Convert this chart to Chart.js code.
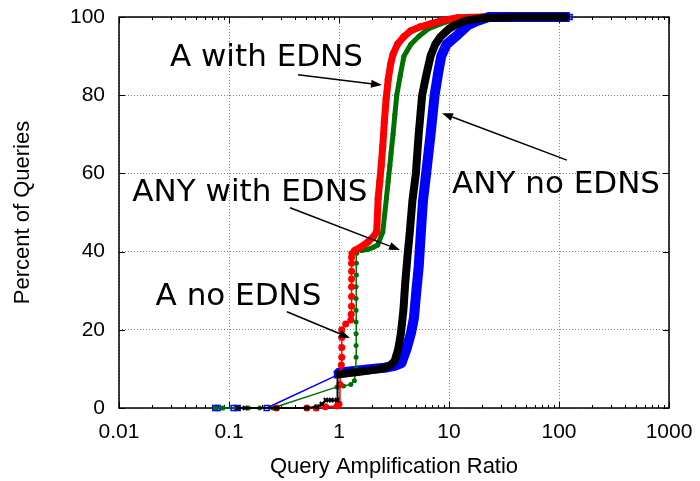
<!DOCTYPE html>
<html>
<head>
<meta charset="utf-8">
<script src="https://cdn.jsdelivr.net/npm/chart.js@4.4.1/dist/chart.umd.min.js"></script>
<style>
  html, body { margin: 0; padding: 0; background: #fff; }
</style>
</head>
<body>
<canvas id="ampChart" width="700" height="481"></canvas>
<script>
// Grafico CDF de amplificacion
var xTicks = [0.01, 0.1, 1, 10, 100, 1000];
var xTickLabels = ['0.01', '0.1', '1', '10', '100', '1000'];
var yTicks = [0, 20, 40, 60, 80, 100];

// A with EDNS (rojo)
var redX = [0.27, 0.51, 0.62, 0.75, 0.96, 1.0, 1.02, 1.04, 1.05, 1.06, 1.06, 1.06, 1.06, 1.15, 1.28, 1.29, 1.3, 1.3, 1.3, 1.3, 1.3, 1.3, 1.3, 1.31, 1.39, 1.55, 1.84, 2.04, 2.2, 2.27, 2.35, 2.42, 2.5, 2.58, 2.68, 2.8, 2.95, 3.1, 3.4, 3.9, 4.5, 5.5, 6.9, 9, 12, 20];
var redY = [0, 0, 0, 0.3, 0.5, 1, 6, 9, 11, 13, 15.5, 18, 20, 21.5, 22.5, 24, 26, 28.5, 31, 33, 35, 37, 38.5, 39.5, 40.3, 41, 42.5, 43.7, 45, 53.7, 58, 62, 67, 73, 79, 84, 88, 90.5, 93, 95, 96.5, 97.5, 98.3, 99.2, 99.8, 100];

// A no EDNS (verde)
var greenX = [0.075, 0.088, 0.15, 0.19, 0.25, 0.96, 1.1, 1.28, 1.38, 1.42, 1.43, 1.43, 1.43, 1.43, 1.43, 1.43, 1.43, 1.44, 1.44, 1.45, 1.6, 1.84, 2.05, 2.25, 2.5, 2.7, 2.8, 2.9, 2.97, 3.1, 3.22, 3.35, 3.6, 3.9, 4.5, 5.3, 6.5, 8.5, 11, 15];
var greenY = [0, 0, 0, 0, 0, 5.4, 5.6, 6, 7, 10, 13, 16, 19, 22, 25, 28, 31, 34, 37, 39.6, 40.3, 40.6, 41.1, 41.7, 45, 53.7, 58, 62, 65, 70, 75, 80, 85, 90, 93, 95, 97, 98.3, 99.3, 100];

// ANY with EDNS (negro)
var blackX = [0.12, 0.14, 0.27, 0.51, 0.63, 0.7, 0.76, 0.85, 0.96, 0.97, 1.0, 1.3, 1.8, 2.4, 2.9, 3.2, 3.45, 3.65, 3.85, 4.0, 4.2, 4.4, 4.65, 5.0, 5.3, 5.7, 6.2, 6.8, 7.5, 8.4, 10, 11.5, 14, 20, 40, 80, 120];
var blackY = [0, 0, 0, 0, 0.3, 1, 2, 2, 2, 8.4, 8.6, 9, 9.5, 10, 10.8, 12, 15, 19, 25, 32, 39, 45, 53, 60, 70, 80, 85, 90, 93, 95, 97, 98, 99, 99.7, 100, 100, 100];

// ANY no EDNS (azul)
var blueX = [0.075, 0.079, 0.11, 0.12, 0.22, 0.96, 1.0, 1.5, 2.0, 2.6, 3.2, 3.7, 4.1, 4.5, 4.8, 5.05, 5.3, 5.55, 5.8, 6.2, 6.8, 7.4, 8.0, 8.5, 9.5, 11.5, 15, 18, 23, 40, 80, 125];
var blueY = [0, 0, 0, 0, 0, 8.4, 9, 9.6, 10, 10.3, 10.8, 11.5, 15, 19, 23, 30, 36, 45, 53, 60, 70, 80, 86, 90, 93, 95, 98, 99, 100, 100, 100, 100];

// etiquetas y flechas (en coordenadas de datos)
var labelText = ['A with EDNS', 'ANY with EDNS', 'A no EDNS', 'ANY no EDNS'];
var labelX = [0.219, 0.155, 0.122, 94];
var labelY = [87.5, 52.9, 26.3, 55.0];
var arrowFromX = [0.424, 0.359, 0.336, 118];
var arrowFromY = [85.2, 51.2, 24.6, 63.4];
var arrowToX = [2.46, 3.59, 1.26, 8.63];
var arrowToY = [82.6, 40.4, 17.9, 75.4];

function toPoints(xs, ys) {
    return xs.map(function (x, i) { return { x: x, y: ys[i] }; });
}

var framePlugin = {
    id: 'frame',
    beforeDatasetsDraw: function (chart) {
        var ctx = chart.ctx, a = chart.chartArea;
        var xs = chart.scales.x, ys = chart.scales.y;
        ctx.save();
        ctx.strokeStyle = '#000';
        ctx.lineWidth = 1;
        ctx.beginPath();
        // marcas menores en x
        for (var d = 0; d < xTicks.length - 1; d++) {
            for (var m = 2; m < 10; m++) {
                var px = Math.round(xs.getPixelForValue(xTicks[d] * m)) + 0.5;
                ctx.moveTo(px, a.bottom); ctx.lineTo(px, a.bottom - 3);
                ctx.moveTo(px, a.top); ctx.lineTo(px, a.top + 3);
            }
        }
        xTicks.forEach(function (v) {
            var px = Math.round(xs.getPixelForValue(v)) + 0.5;
            ctx.moveTo(px, a.bottom); ctx.lineTo(px, a.bottom - 6);
            ctx.moveTo(px, a.top); ctx.lineTo(px, a.top + 6);
        });
        yTicks.forEach(function (v) {
            var py = Math.round(ys.getPixelForValue(v)) + 0.5;
            ctx.moveTo(a.left, py); ctx.lineTo(a.left + 6, py);
            ctx.moveTo(a.right, py); ctx.lineTo(a.right - 6, py);
        });
        ctx.stroke();
        ctx.lineWidth = 1.5;
        ctx.strokeRect(a.left, a.top, a.right - a.left, a.bottom - a.top);
        ctx.restore();
    },
    afterDatasetsDraw: function (chart) {
        var ctx = chart.ctx;
        var xs = chart.scales.x, ys = chart.scales.y;
        ctx.save();
        ctx.fillStyle = '#000';
        ctx.strokeStyle = '#000';
        ctx.font = '31px "DejaVu Sans"';
        ctx.textAlign = 'center';
        ctx.textBaseline = 'alphabetic';
        labelText.forEach(function (t, i) {
            ctx.fillText(t, xs.getPixelForValue(labelX[i]), ys.getPixelForValue(labelY[i]));
        });
        ctx.lineWidth = 1.5;
        labelText.forEach(function (t, i) {
            var x0 = xs.getPixelForValue(arrowFromX[i]), y0 = ys.getPixelForValue(arrowFromY[i]);
            var x1 = xs.getPixelForValue(arrowToX[i]), y1 = ys.getPixelForValue(arrowToY[i]);
            var ang = Math.atan2(y1 - y0, x1 - x0);
            var hl = 11, hw = 4;
            var bx = x1 - hl * Math.cos(ang), by = y1 - hl * Math.sin(ang);
            ctx.beginPath();
            ctx.moveTo(x0, y0); ctx.lineTo(bx, by);
            ctx.stroke();
            ctx.beginPath();
            ctx.moveTo(x1, y1);
            ctx.lineTo(bx + hw * Math.sin(ang), by - hw * Math.cos(ang));
            ctx.lineTo(bx - hw * Math.sin(ang), by + hw * Math.cos(ang));
            ctx.closePath();
            ctx.fill();
        });
        ctx.restore();
    }
};

Chart.defaults.font.family = '"Liberation Sans", Arial, sans-serif';
Chart.defaults.color = '#000';

var ctx = document.getElementById('ampChart').getContext('2d');

var myChart = new Chart(ctx, {
    type: 'scatter',
    data: {
        datasets: [{
            label: 'ANY with EDNS',
            data: toPoints(blackX, blackY),
            showLine: true,
            borderColor: '#000000',
            backgroundColor: '#000000',
            pointStyle: 'crossRot',
            pointRadius: 3,
            pointBorderWidth: 2,
            borderJoinStyle: 'round',
            borderCapStyle: 'butt',
            segment: {
                borderWidth: function (c) { return c.p0.parsed.y >= 8 ? 8 : 2; }
            },
            clip: false,
            order: 0
        }, {
            label: 'A with EDNS',
            data: toPoints(redX, redY),
            showLine: true,
            borderColor: '#ff0000',
            backgroundColor: '#ff0000',
            pointStyle: 'circle',
            pointRadius: 3.5,
            pointBorderWidth: 0,
            borderJoinStyle: 'round',
            borderCapStyle: 'round',
            segment: {
                borderWidth: function (c) { return c.p0.parsed.y >= 40 ? 7 : 1.5; }
            },
            clip: false,
            order: 1
        }, {
            label: 'A no EDNS',
            data: toPoints(greenX, greenY),
            showLine: true,
            borderColor: '#007000',
            backgroundColor: '#007000',
            pointStyle: 'circle',
            pointRadius: 2.5,
            pointBorderWidth: 0,
            borderJoinStyle: 'round',
            borderCapStyle: 'round',
            segment: {
                borderWidth: function (c) { return c.p0.parsed.y >= 40 ? 5 : 1.5; }
            },
            clip: false,
            order: 2
        }, {
            label: 'ANY no EDNS',
            data: toPoints(blueX, blueY),
            showLine: true,
            borderColor: '#0000ff',
            backgroundColor: 'rgba(0,0,0,0)',
            pointStyle: 'rect',
            pointRadius: 3.5,
            pointBorderWidth: 1.5,
            borderJoinStyle: 'round',
            borderCapStyle: 'butt',
            segment: {
                borderWidth: function (c) { return c.p0.parsed.x >= 0.95 ? 10 : 1.5; }
            },
            clip: false,
            order: 3
        }]
    },
    options: {
        responsive: false,
        animation: false,
        devicePixelRatio: 1,
        layout: { padding: { top: 17, right: 31, left: 0, bottom: 0 } },
        scales: {
            x: {
                type: 'logarithmic',
                min: 0.01,
                max: 1000,
                afterBuildTicks: function (scale) {
                    scale.ticks = xTicks.map(function (v) { return { value: v }; });
                },
                afterFit: function (scale) {
                    scale.height = 73;
                    scale.paddingLeft = 0;
                    scale.paddingRight = 0;
                },
                ticks: {
                    font: { size: 21 },
                    padding: 12,
                    autoSkip: false,
                    maxRotation: 0,
                    callback: function (value, index) { return xTickLabels[index]; }
                },
                grid: { color: '#808080', lineWidth: 1, drawTicks: false },
                border: { display: false, dash: [1, 2] },
                title: {
                    display: true,
                    text: 'Query Amplification Ratio',
                    font: { size: 22 },
                    padding: { top: 0, bottom: 1 }
                }
            },
            y: {
                min: 0,
                max: 100,
                afterFit: function (scale) {
                    scale.width = 119;
                    scale.paddingTop = 0;
                    scale.paddingBottom = 0;
                },
                ticks: {
                    stepSize: 20,
                    font: { size: 21 },
                    padding: 14
                },
                grid: { color: '#808080', lineWidth: 1, drawTicks: false },
                border: { display: false, dash: [1, 2] },
                title: {
                    display: true,
                    text: 'Percent of Queries',
                    font: { size: 22 },
                    padding: { top: 10, bottom: 0 }
                }
            }
        },
        plugins: {
            legend: { display: false },
            tooltip: { enabled: false }
        }
    },
    plugins: [framePlugin]
});
</script>
</body>
</html>
